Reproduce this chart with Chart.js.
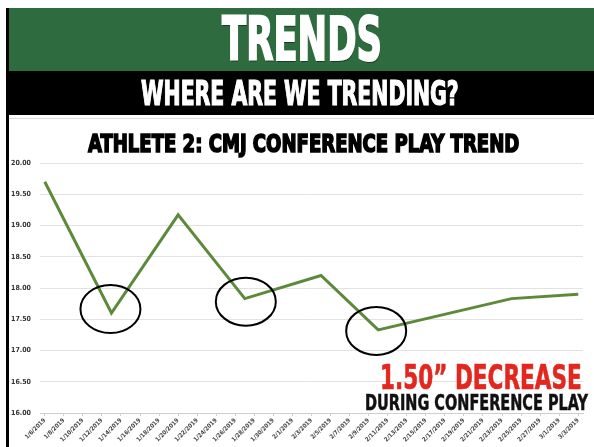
<!DOCTYPE html>
<html lang="en">
<head>
<meta charset="UTF-8">
<title>Trends</title>
<style>
html, body { margin:0; padding:0; background:#fff; }
#page { position:relative; width:594px; height:447px; overflow:hidden; background:#fff;
  font-family:"Liberation Sans Narrow","DejaVu Sans Condensed","Liberation Sans",Arial,sans-serif; font-weight:bold; }
#green { position:absolute; left:6px; top:8px; width:588px; height:63px; background:#2e6b3e; }
#black { position:absolute; left:6px; top:71px; width:588px; height:44px; background:#000; }
#leftBar { position:absolute; left:6px; top:8px; width:3px; height:439px; background:#000; }
#boxLine { position:absolute; left:9px; top:118px; width:585px; height:1px; background:#ddd; }
canvas { position:absolute; left:0; top:0; }
.txt { position:absolute; white-space:nowrap; line-height:1; transform-origin:0 0; }
#t1 { color:#fff; font-size:60px; -webkit-text-stroke:2px #fff; text-shadow:1px 2px 0 #1b3a22, -1px 0 0 #1b3a22; }
#t2 { color:#fff; font-size:33px; -webkit-text-stroke:1.2px #fff; }
#t3 { color:#000; font-size:25px; -webkit-text-stroke:1.6px #000; }
#t4 { color:#e3261e; font-size:33px; -webkit-text-stroke:0.6px #e3261e; }
#t5 { color:#111; font-size:21px; -webkit-text-stroke:0.5px #111; }
</style>
</head>
<body>
<div id="page">
  <div id="green"></div>
  <div id="black"></div>
  <div id="leftBar"></div>
  <div id="boxLine"></div>
  <canvas id="chart" width="594" height="447"></canvas>
  <div class="txt" id="t1" data-x="222" data-y="16" data-w="160">TRENDS</div>
  <div class="txt" id="t2" data-x="141" data-y="81" data-w="318">WHERE ARE WE TRENDING?</div>
  <div class="txt" id="t3" data-x="88" data-y="134" data-w="431">ATHLETE 2: CMJ CONFERENCE PLAY TREND</div>
  <div class="txt" id="t4" data-x="380" data-y="365" data-w="202">1.50” DECREASE</div>
  <div class="txt" id="t5" data-x="365" data-y="396" data-w="223">DURING CONFERENCE PLAY</div>
</div>

<script src="https://cdn.jsdelivr.net/npm/chart.js"></script>
<script>
// measurement dates and CMJ values
const pointDates = ['1/6/2019', '1/13/2019', '1/20/2019', '1/27/2019', '2/4/2019', '2/10/2019', '2/24/2019', '3/3/2019'];
const cmjValues = [19.70, 17.60, 19.17, 17.83, 18.20, 17.33, 17.83, 17.90];

// axis labels
const tickLabels = ['1/6/2019', '1/8/2019', '1/10/2019', '1/12/2019', '1/14/2019', '1/16/2019', '1/18/2019',
  '1/20/2019', '1/22/2019', '1/24/2019', '1/26/2019', '1/28/2019', '1/30/2019', '2/1/2019', '2/3/2019',
  '2/5/2019', '2/7/2019', '2/9/2019', '2/11/2019', '2/13/2019', '2/15/2019', '2/17/2019', '2/19/2019',
  '2/21/2019', '2/23/2019', '2/25/2019', '2/27/2019', '3/1/2019', '3/3/2019'];
const yTicks = [16, 16.5, 17, 17.5, 18, 18.5, 19, 19.5, 20];

// circled points: index into data, offset of ellipse centre
const circled = [
  { i: 1, dx: -1, dy: -4 },
  { i: 3, dx: 1, dy: 3 },
  { i: 5, dx: -2, dy: 1 }
];

function toDate(s) {
  const p = s.split('/');
  return new Date(+p[2], +p[0] - 1, +p[1]);
}
const day0 = toDate(tickLabels[0]);
function dayIndex(s) {
  return Math.round((toDate(s) - day0) / 864e5);
}

// size the heading texts to their boxes
document.querySelectorAll('.txt').forEach(el => {
  el.style.left = el.dataset.x + 'px';
  el.style.top = (el.dataset.y - parseFloat(getComputedStyle(el).fontSize) * 0.12) + 'px';
  const sx = el.dataset.w / el.offsetWidth;
  el.style.transform = 'scaleX(' + sx + ')';
});

const circlePlugin = {
  id: 'circles',
  afterDatasetsDraw(chart) {
    const ctx = chart.ctx;
    const meta = chart.getDatasetMeta(0);
    ctx.save();
    ctx.strokeStyle = '#000';
    ctx.lineWidth = 2;
    circled.forEach(c => {
      const pt = meta.data[c.i];
      ctx.beginPath();
      ctx.ellipse(pt.x + c.dx, pt.y + c.dy, 30, 24, 0, 0, Math.PI * 2);
      ctx.stroke();
    });
    ctx.restore();
  }
};

const ctx = document.getElementById('chart').getContext('2d');
new Chart(ctx, {
  type: 'line',
  data: {
    datasets: [{
      data: pointDates.map((d, i) => ({ x: dayIndex(d), y: cmjValues[i] })),
      borderColor: '#5c8a3a',
      borderWidth: 3,
      pointRadius: 0,
      tension: 0,
      fill: false
    }]
  },
  options: {
    responsive: false,
    animation: false,
    layout: { padding: { top: 163, right: 11, left: 0, bottom: 0 } },
    plugins: { legend: { display: false }, tooltip: { enabled: false } },
    scales: {
      x: {
        type: 'linear',
        min: -0.5,
        max: 56.5,
        afterBuildTicks: s => { s.ticks = tickLabels.map(l => ({ value: dayIndex(l) })); },
        afterFit: s => { s.height = 34; },
        ticks: {
          autoSkip: false,
          minRotation: 45,
          maxRotation: 45,
          padding: 1,
          color: '#444',
          font: { family: 'Liberation Sans Narrow, DejaVu Sans Condensed, sans-serif', size: 6, weight: 'bold' },
          callback: (v, i) => tickLabels[i]
        },
        grid: { drawOnChartArea: false, color: '#cfcfcf', tickLength: 3 },
        border: { color: '#cfcfcf' }
      },
      y: {
        min: 16,
        max: 20,
        afterBuildTicks: s => { s.ticks = yTicks.map(v => ({ value: v })); },
        afterFit: s => { s.width = 40; },
        ticks: {
          padding: 9,
          color: '#333',
          font: { family: 'Liberation Sans Narrow, DejaVu Sans Condensed, sans-serif', size: 7, weight: 'bold' },
          callback: v => v.toFixed(2)
        },
        grid: { color: '#e2e2e2', drawTicks: false },
        border: { display: false }
      }
    }
  },
  plugins: [circlePlugin]
});
</script>
</body>
</html>
